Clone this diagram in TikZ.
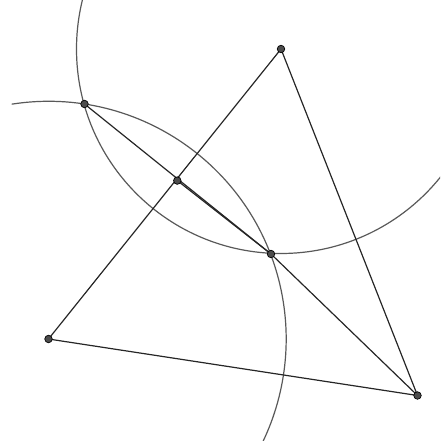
\documentclass[tikz,border=0pt]{standalone}
\usetikzlibrary{backgrounds}
\begin{document}
\begin{tikzpicture}[x=1pt,y=-1pt,
  seg/.style={draw=black!85,line width=1.2pt},
  circ/.style={draw=black!65,line width=1.2pt},
  pt/.style={circle,fill=black!70,draw=black,line width=0.7pt,inner sep=0pt,minimum size=7.5pt}]
\useasboundingbox (0,0) rectangle (440,441);
\node[pt] (A) at (281,49) {};
\node[pt] (B) at (48.5,339) {};
\node[pt] (C) at (417.5,395.5) {};
\node[pt] (P) at (84.5,104) {};
\node[pt] (M) at (177.3,180.6) {};
\node[pt] (Q) at (271,254) {};
\begin{scope}[on background layer]
\begin{scope}
\clip (0,0) rectangle (440,441);
\path[circ] (A.center) circle[radius=204.5];
\path[circ] ([shift={(-98.9:237.7)}]B.center) arc[start angle=-98.9, end angle=32, radius=237.7];
\end{scope}
\path[seg] (A.center) -- (B.center);
\path[seg] (A.center) -- (C.center);
\path[seg] (B.center) -- (C.center);
\path[seg] (P.center) -- (Q.center);
\path[seg] (M.center) -- (Q.center);
\path[seg] (Q.center) -- (C.center);
\end{scope}
\end{tikzpicture}
\end{document}
